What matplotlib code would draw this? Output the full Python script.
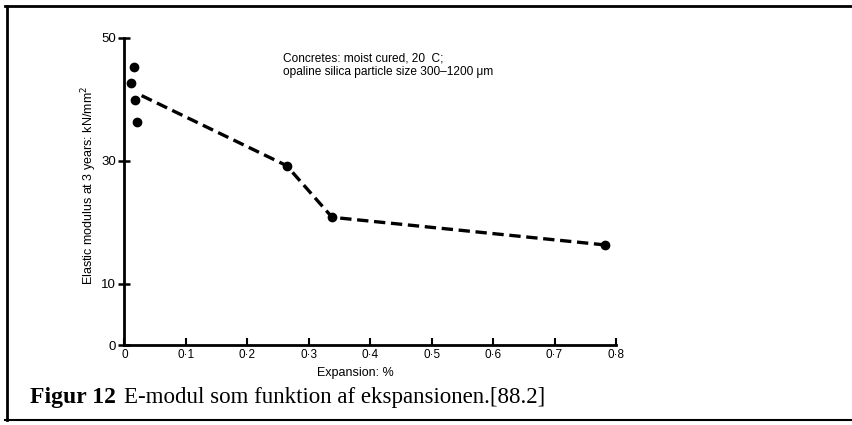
import matplotlib.pyplot as plt
from matplotlib.lines import Line2D

# --- Data ---
# four isolated points close to zero expansion
scatter_x = [0.016, 0.010, 0.018, 0.020]
scatter_y = [45.3, 42.6, 39.9, 36.3]

# dashed trend line (first vertex has no marker)
line_x = [0.028, 0.264, 0.338, 0.782]
line_y = [40.6, 29.2, 20.8, 16.3]

x_ticks = [0, 0.1, 0.2, 0.3, 0.4, 0.5, 0.6, 0.7, 0.8]
x_tick_labels = ["0", "0·1", "0·2", "0·3", "0·4", "0·5", "0·6", "0·7", "0·8"]
y_ticks = [0, 10, 30, 50]

sans = "Liberation Sans"
serif = "Liberation Serif"

fig = plt.figure(figsize=(8.52, 4.25), dpi=100)
ax = fig.add_axes([0.146, 0.188, 0.577, 0.723])

ax.plot(line_x, line_y, color="black", linewidth=2.4, linestyle=(0, (3.4, 1.7)),
        dash_capstyle="butt")
ax.plot(line_x[1:], line_y[1:], "o", color="black", markersize=6)
ax.plot(scatter_x, scatter_y, "o", color="black", markersize=6)

ax.set_xlim(0, 0.8)
ax.set_ylim(0, 50)
ax.set_xticks(x_ticks)
ax.set_xticklabels(x_tick_labels, fontfamily=sans, fontsize=8.5)
ax.set_yticks(y_ticks)
ax.set_yticklabels([str(v) for v in y_ticks], fontfamily=sans, fontsize=9.5)
ax.tick_params(axis="x", direction="in", length=5, width=1.5, pad=3)
ax.tick_params(axis="y", direction="inout", length=8, width=1.8, pad=2)

for side in ["top", "right"]:
    ax.spines[side].set_visible(False)
for side in ["left", "bottom"]:
    ax.spines[side].set_linewidth(2)

ax.set_xlabel("Expansion: %", fontfamily=sans, fontsize=9, labelpad=1)
ax.xaxis.set_label_coords(0.47, -0.07)
ax.set_ylabel("Elastic modulus at 3 years: kN/mm$^2$", fontfamily=sans, fontsize=9)
ax.yaxis.set_label_coords(-0.052, 0.52)

ax.text(0.258, 45.6, "Concretes: moist cured, 20  C;\nopaline silica particle size 300–1200 μm",
        fontfamily=sans, fontsize=8.6, linespacing=1.15, va="center")

# caption
fig.text(0.035, 0.052, "Figur 12", fontfamily=serif, fontweight="bold", fontsize=17)
fig.text(0.146, 0.052, "E-modul som funktion af ekspansionen.[88.2]",
         fontfamily=serif, fontsize=16.5)

# frame around the figure (scanned page border)
fig.add_artist(Line2D([0.006, 1.0], [0.986, 0.986], color="black", linewidth=2))
fig.add_artist(Line2D([0.008, 0.008], [0.012, 0.986], color="black", linewidth=2))
fig.add_artist(Line2D([0.006, 1.0], [0.012, 0.012], color="black", linewidth=1.5))

plt.savefig("out.png", dpi=100)
